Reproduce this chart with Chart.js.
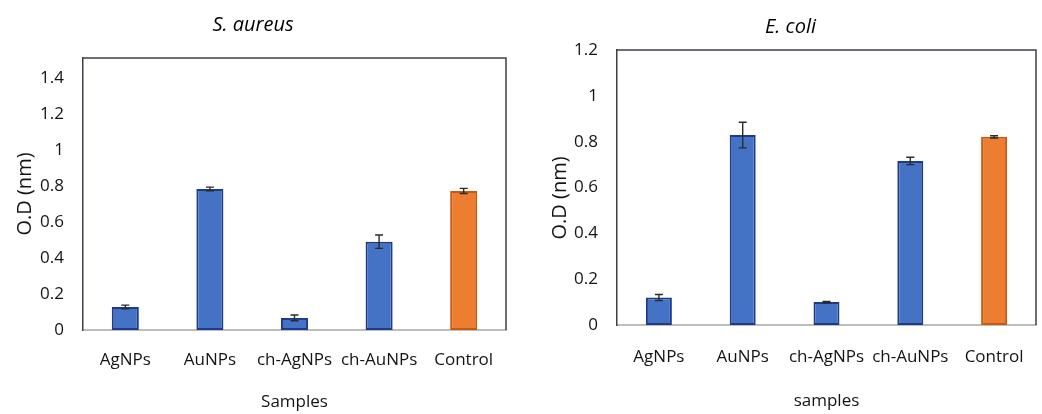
<!DOCTYPE html>
<html>
<head>
<meta charset="utf-8">
<script src="https://cdn.jsdelivr.net/npm/chart.js@4/dist/chart.umd.min.js"></script>
<style>
  html, body { margin: 0; padding: 0; background: #fff; overflow: hidden; width: 1042px; height: 414px; }
  canvas { position: absolute; top: 0; }
  #c1 { left: 0; }
  #c2 { left: 545px; }
</style>
</head>
<body>
<canvas id="c1" width="530" height="414"></canvas>
<canvas id="c2" width="504" height="414"></canvas>
<script>
// ---- data ----
const categories = ['AgNPs', 'AuNPs', 'ch-AgNPs', 'ch-AuNPs', 'Control'];

const saureusValues = [0.128, 0.783, 0.067, 0.490, 0.772];
const saureusErrors = [0.010, 0.010, 0.016, 0.037, 0.014];
const saureusTicks = [0, 0.2, 0.4, 0.6, 0.8, 1, 1.2, 1.4];
const saureusTickLabels = ['0', '0.2', '0.4', '0.6', '0.8', '1', '1.2', '1.4'];

const ecoliValues = [0.120, 0.829, 0.100, 0.716, 0.821];
const ecoliErrors = [0.013, 0.056, 0.003, 0.016, 0.005];
const ecoliTicks = [0, 0.2, 0.4, 0.6, 0.8, 1, 1.2];
const ecoliTickLabels = ['0', '0.2', '0.4', '0.6', '0.8', '1', '1.2'];

const fillColors = ['#4472C4', '#4472C4', '#4472C4', '#4472C4', '#ED7D31'];
const edgeColors = ['#1E3A8A', '#1E3A8A', '#1E3A8A', '#1E3A8A', '#C55A11'];

const FONT = "'Open Sans', 'Noto Sans', sans-serif";
const TEXT = '#141414';

// error bars drawn via the library's scales
const errorBarPlugin = {
  id: 'errorBars',
  afterDatasetsDraw(chart, args, opts) {
    const ctx = chart.ctx;
    const meta = chart.getDatasetMeta(0);
    const ys = chart.scales.y;
    const vals = chart.data.datasets[0].data;
    const errs = opts.errors || [];
    ctx.save();
    ctx.strokeStyle = '#2b2b2b';
    ctx.lineWidth = 1.4;
    meta.data.forEach((bar, i) => {
      const e = errs[i] || 0;
      const yTop = ys.getPixelForValue(vals[i] + e);
      const yBot = ys.getPixelForValue(vals[i] - e);
      const x = bar.x;
      ctx.beginPath();
      ctx.moveTo(x, yTop); ctx.lineTo(x, yBot);
      ctx.moveTo(x - 4, yTop); ctx.lineTo(x + 4, yTop);
      ctx.moveTo(x - 4, yBot); ctx.lineTo(x + 4, yBot);
      ctx.stroke();
    });
    ctx.restore();
  }
};

const framePlugin = {
  id: 'frame',
  beforeDatasetsDraw(chart) {
    const { ctx, chartArea: a } = chart;
    ctx.save();
    ctx.strokeStyle = '#3f3f4a';
    ctx.lineWidth = 1.5;
    ctx.beginPath();
    ctx.moveTo(a.left, a.top);
    ctx.lineTo(a.right, a.top);
    ctx.lineTo(a.right, a.bottom);
    ctx.stroke();
    ctx.restore();
  }
};

function makeChart(id, cfg) {
  return new Chart(document.getElementById(id), {
    type: 'bar',
    data: {
      labels: categories,
      datasets: [{
        data: cfg.values,
        backgroundColor: fillColors,
        borderColor: edgeColors,
        borderWidth: 2,
        borderSkipped: false,
        barPercentage: 1,
        categoryPercentage: cfg.catPct
      }]
    },
    options: {
      responsive: false,
      animation: false,
      devicePixelRatio: 1,
      layout: { padding: { left: 0, right: cfg.padRight, top: 0, bottom: 0 } },
      plugins: {
        legend: { display: false },
        tooltip: { enabled: false },
        title: {
          display: true,
          text: cfg.title,
          color: '#000',
          font: { family: FONT, size: 20, style: 'italic', weight: 'normal', lineHeight: 1.2 },
          padding: { top: cfg.titleTop, bottom: cfg.titleBottom }
        },
        errorBars: { errors: cfg.errors }
      },
      scales: {
        x: {
          grid: { display: false, drawTicks: false },
          border: { display: true, color: '#bdbdbd', width: 2 },
          ticks: { color: TEXT, font: { family: FONT, size: 17 }, padding: cfg.xTickPad, maxRotation: 0, autoSkip: false },
          title: {
            display: true, text: cfg.xTitle, color: TEXT,
            font: { family: FONT, size: 17, lineHeight: 1.2 },
            padding: { top: 0, bottom: cfg.xTitleBottom }
          },
          afterFit(scale) { scale.height = cfg.xHeight; }
        },
        y: {
          min: 0, max: cfg.max,
          grid: { display: false, drawTicks: false },
          border: { display: true, color: '#3f3f4a', width: 1.5 },
          afterBuildTicks(scale) { scale.ticks = cfg.ticks.map(v => ({ value: v })); },
          ticks: {
            color: TEXT, font: { family: FONT, size: 17 }, padding: 19,
            callback: (v) => { const i = cfg.ticks.indexOf(v); return i >= 0 ? cfg.tickLabels[i] : ''; }
          },
          title: {
            display: true, text: cfg.yTitle, color: TEXT,
            font: { family: FONT, size: 20, lineHeight: 1.2 },
            padding: { top: cfg.yTitleTop, bottom: 0 }
          },
          afterFit(scale) { scale.width = cfg.yWidth; }
        }
      }
    },
    plugins: [errorBarPlugin, framePlugin]
  });
}

makeChart('c1', {
  title: 'S. aureus', values: saureusValues, errors: saureusErrors,
  ticks: saureusTicks, tickLabels: saureusTickLabels, max: 1.51,
  xTitle: 'Samples', yTitle: 'O.D (nm)',
  padRight: 24, titleTop: 13, titleBottom: 21,
  yWidth: 83, yTitleTop: 13, xHeight: 84, xTickPad: 20, xTitleBottom: 2,
  catPct: 0.32
});

makeChart('c2', {
  title: 'E. coli', values: ecoliValues, errors: ecoliErrors,
  ticks: ecoliTicks, tickLabels: ecoliTickLabels, max: 1.2,
  xTitle: 'samples', yTitle: 'O.D (nm)    ',
  padRight: 13, titleTop: 15.5, titleBottom: 10.5,
  yWidth: 72, yTitleTop: 3, xHeight: 89, xTickPad: 22, xTitleBottom: 3,
  catPct: 0.31
});
</script>
</body>
</html>
